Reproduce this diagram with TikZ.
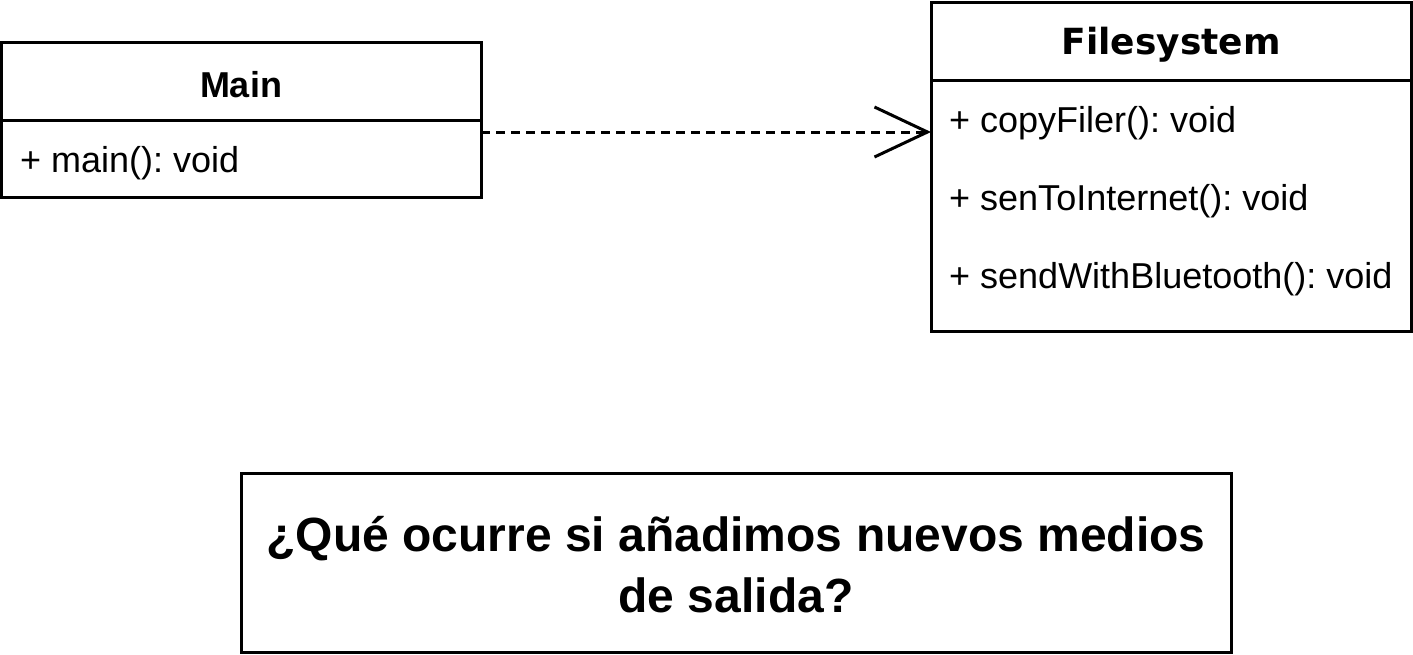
\documentclass[tikz,border=0pt]{standalone}
\usepackage{fontspec}
\setmainfont{Liberation Sans}
\newfontfamily\dejavu{DejaVu Sans}
\usetikzlibrary{arrows.meta}
\frenchspacing
\tikzset{
  box/.style={draw=black, line width=3, rectangle, inner sep=0, outer sep=0, anchor=north west},
  divider/.style={draw=black, line width=3},
  member/.style={anchor=base west, inner sep=0, font=\fontsize{36}{43}\selectfont},
  maintitle/.style={anchor=base, inner sep=0, font=\fontsize{36}{43}\selectfont\bfseries},
  fstitle/.style={anchor=base, inner sep=0, font=\fontsize{36}{43}\selectfont\dejavu\bfseries},
  question/.style={anchor=base, inner sep=0, align=center, font=\fontsize{48}{61}\selectfont\bfseries},
  depend/.style={line width=3, dash pattern=on 9 off 6, -{Straight Barb[length=53pt,width=50pt,line width=3pt]}}
}
\begin{document}
\begin{tikzpicture}[x=1pt,y=-1pt]
\useasboundingbox (0,0) rectangle (1413,654);
% Main class
\node[box, minimum width=479.5, minimum height=154.5] (main) at (1.5,42.5) {};
\coordinate (mdl) at (1.5,120);
\coordinate (mdr) at (481,120);
\draw[divider] (mdl) -- (mdr);
\node[maintitle] (maint) at (241,97) {Main};
\node[member] (mainm) at (20,172) {+ main(): void};
% Filesystem class
\node[box, minimum width=480, minimum height=329] (fs) at (931,2) {};
\coordinate (fdl) at (931,80);
\coordinate (fdr) at (1411,80);
\draw[divider] (fdl) -- (fdr);
\node[fstitle] (fst) at (1171,54) {Filesystem};
\node[member] (fs1) at (949,132) {+ copyFiler(): void};
\node[member] (fs2) at (949,210) {+ senToInternet(): void};
\node[member] (fs3) at (949,288) {+ sendWithBluetooth(): void};
% dependency
\coordinate (src) at (481,132);
\coordinate (dst) at (931,132);
\draw[depend] (src) -- (dst);
% question
\node[box, minimum width=990, minimum height=179] (qbox) at (241,473) {};
\node[question] (q) at (736,612) {¿Qué ocurre si añadimos nuevos medios\\de salida?};
\end{tikzpicture}
\end{document}
